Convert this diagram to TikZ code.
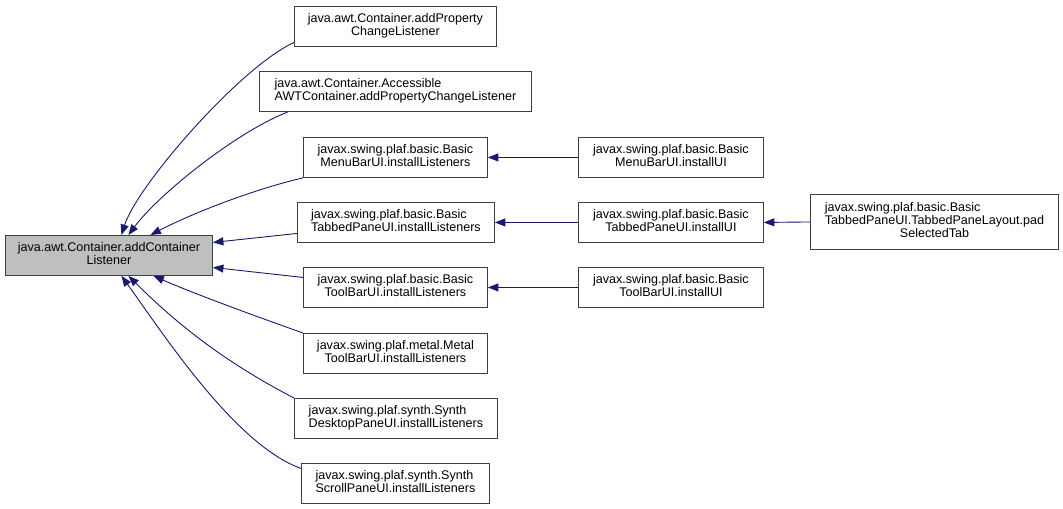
\documentclass[tikz,border=0pt]{standalone}
\usepackage{fontspec}
\setmainfont{Liberation Sans}
\usetikzlibrary{arrows.meta}
\definecolor{edgeblue}{HTML}{191970}
\definecolor{maingray}{HTML}{BFBFBF}
\newcommand{\twoline}[2]{\begin{tabular}{@{}c@{}}\multicolumn{1}{@{}l@{}}{#1}\\#2\end{tabular}}
\newcommand{\threeline}[3]{\begin{tabular}{@{}c@{}}\multicolumn{1}{@{}l@{}}{#1}\\\multicolumn{1}{@{}l@{}}{#2}\\#3\end{tabular}}
\tikzset{
  box/.style={draw=black!75, line width=0.9bp, fill=white, inner sep=0pt,
    anchor=north west, minimum height=40bp, align=center,
    font=\fontsize{12.6}{13.3}\selectfont},
  calledge/.style={draw=edgeblue, line width=0.9bp,
    -{Triangle[length=10.5bp,width=8bp]}}
}
\begin{document}
\begin{tikzpicture}[x=1bp,y=-1bp]
\useasboundingbox[fill=white] (0,0) rectangle (1063,509);
% nodes
\node[box, fill=maingray, minimum width=207bp] (main) at (5,235) {\twoline{java.awt.Container.addContainer}{Listener}};
\node[box, minimum width=202bp] (A) at (294,6) {\twoline{java.awt.Container.addProperty}{ChangeListener}};
\node[box, minimum width=272bp] (B) at (259,71) {\twoline{java.awt.Container.Accessible}{AWTContainer.addPropertyChangeListener}};
\node[box, minimum width=184bp] (C) at (303,137) {\twoline{javax.swing.plaf.basic.Basic}{MenuBarUI.installListeners}};
\node[box, minimum width=197bp] (D) at (297,202) {\twoline{javax.swing.plaf.basic.Basic}{TabbedPaneUI.installListeners}};
\node[box, minimum width=184bp] (E) at (303,267) {\twoline{javax.swing.plaf.basic.Basic}{ToolBarUI.installListeners}};
\node[box, minimum width=184bp] (F) at (303,333) {\twoline{javax.swing.plaf.metal.Metal}{ToolBarUI.installListeners}};
\node[box, minimum width=203bp] (G) at (294,398) {\twoline{javax.swing.plaf.synth.Synth}{DesktopPaneUI.installListeners}};
\node[box, minimum width=188bp] (H) at (301,463) {\twoline{javax.swing.plaf.synth.Synth}{ScrollPaneUI.installListeners}};
\node[box, minimum width=185bp] (C2) at (578,137) {\twoline{javax.swing.plaf.basic.Basic}{MenuBarUI.installUI}};
\node[box, minimum width=185bp] (D2) at (578,202) {\twoline{javax.swing.plaf.basic.Basic}{TabbedPaneUI.installUI}};
\node[box, minimum width=185bp] (E2) at (578,267) {\twoline{javax.swing.plaf.basic.Basic}{ToolBarUI.installUI}};
\node[box, minimum width=248bp, minimum height=55bp] (P) at (810,194) {\threeline{javax.swing.plaf.basic.Basic}{TabbedPaneUI.TabbedPaneLayout.pad}{SelectedTab}};
% connectors
\draw[calledge] ([yshift=-16bp]A.west) .. controls (239,68) and (137,186) .. ([xshift=12.5bp]main.north);
\draw[calledge] ([xshift=29bp]B.south west) .. controls (236,132) and (158,195) .. ([xshift=19.5bp]main.north);
\draw[calledge] (C.south west) .. controls (255,189) and (195,212) .. ([xshift=41.5bp]main.north);
\draw[calledge] ([yshift=-11bp]D.west) -- ([yshift=13bp]main.east);
\draw[calledge] ([yshift=10bp]E.west) -- ([yshift=-12bp]main.east);
\draw[calledge] (F.north west) .. controls (255,316) and (195,294) .. ([xshift=44.5bp]main.south);
\draw[calledge] (G.north west) .. controls (213,356) and (166,313) .. ([xshift=19.5bp]main.south);
\draw[calledge] ([yshift=15bp]H.west) .. controls (235,445) and (162,332) .. ([xshift=12.5bp]main.south);
\draw[calledge] (C2.west) -- (C.east);
\draw[calledge] (D2.west) -- (D.east);
\draw[calledge] (E2.west) -- (E.east);
\draw[calledge] (P.west) -- (D2.east);
\end{tikzpicture}
\end{document}
